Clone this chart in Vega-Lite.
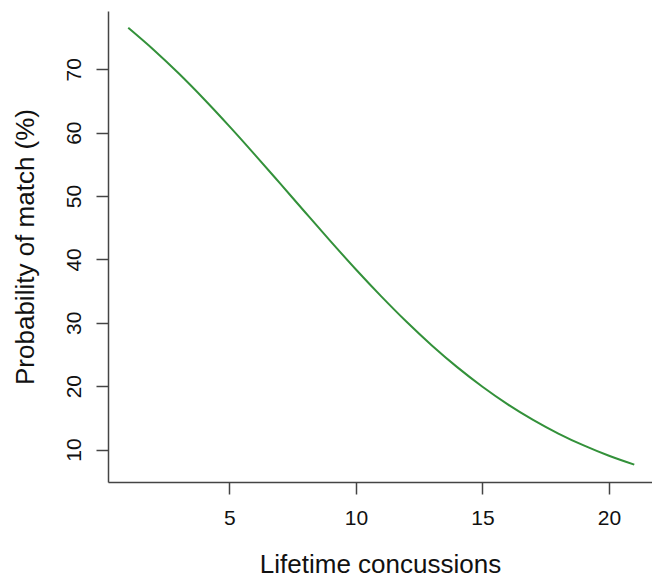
{
  "$schema": "https://vega.github.io/schema/vega-lite/v6.json",
  "width": 544,
  "height": 471,
  "autosize": {"type": "none"},
  "padding": {"left": 108, "top": 11, "right": 0, "bottom": 97},
  "background": "white",
  "config": {
    "view": {"stroke": null},
    "font": "Liberation Sans",
    "axis": {
      "grid": false,
      "tickSize": 12,
      "domainColor": "#444444",
      "tickColor": "#444444",
      "domainWidth": 1.5,
      "tickWidth": 1.5,
      "labelFontSize": 21,
      "labelColor": "#111111",
      "titleFontSize": 26,
      "titleFontWeight": "normal",
      "titleColor": "#111111",
      "labelOverlap": false,
      "labelFlush": false
    }
  },
  "data": {
    "values": [
      {"concussions": 1, "prob": 76.55},
      {"concussions": 2, "prob": 73.09},
      {"concussions": 3, "prob": 69.33},
      {"concussions": 4, "prob": 65.28},
      {"concussions": 5, "prob": 61.0},
      {"concussions": 6, "prob": 56.55},
      {"concussions": 7, "prob": 51.99},
      {"concussions": 8, "prob": 47.4},
      {"concussions": 9, "prob": 42.85},
      {"concussions": 10, "prob": 38.41},
      {"concussions": 11, "prob": 34.17},
      {"concussions": 12, "prob": 30.16},
      {"concussions": 13, "prob": 26.43},
      {"concussions": 14, "prob": 23.01},
      {"concussions": 15, "prob": 19.92},
      {"concussions": 16, "prob": 17.14},
      {"concussions": 17, "prob": 14.69},
      {"concussions": 18, "prob": 12.53},
      {"concussions": 19, "prob": 10.65},
      {"concussions": 20, "prob": 9.02},
      {"concussions": 21, "prob": 7.62}
    ]
  },
  "mark": {"type": "line", "color": "#33913a", "strokeWidth": 2, "interpolate": "monotone"},
  "encoding": {
    "x": {
      "field": "concussions",
      "type": "quantitative",
      "scale": {"domain": [0.2, 21.7], "nice": false, "zero": false},
      "axis": {
        "values": [5, 10, 15, 20],
        "title": "Lifetime concussions",
        "labelBaseline": "alphabetic",
        "labelAlign": "center",
        "labelPadding": 30,
        "titleX": 272,
        "titleY": 90,
        "titleAlign": "center",
        "titleBaseline": "alphabetic"
      }
    },
    "y": {
      "field": "prob",
      "type": "quantitative",
      "scale": {"domain": [4.88, 79.2], "nice": false, "zero": false},
      "axis": {
        "values": [10, 20, 30, 40, 50, 60, 70],
        "title": "Probability of match (%)",
        "labelAngle": 270,
        "labelAlign": "center",
        "labelBaseline": "alphabetic",
        "labelPadding": 16,
        "titleAngle": 270,
        "titleX": -75,
        "titleY": 235.5,
        "titleAlign": "center",
        "titleBaseline": "alphabetic"
      }
    }
  }
}
